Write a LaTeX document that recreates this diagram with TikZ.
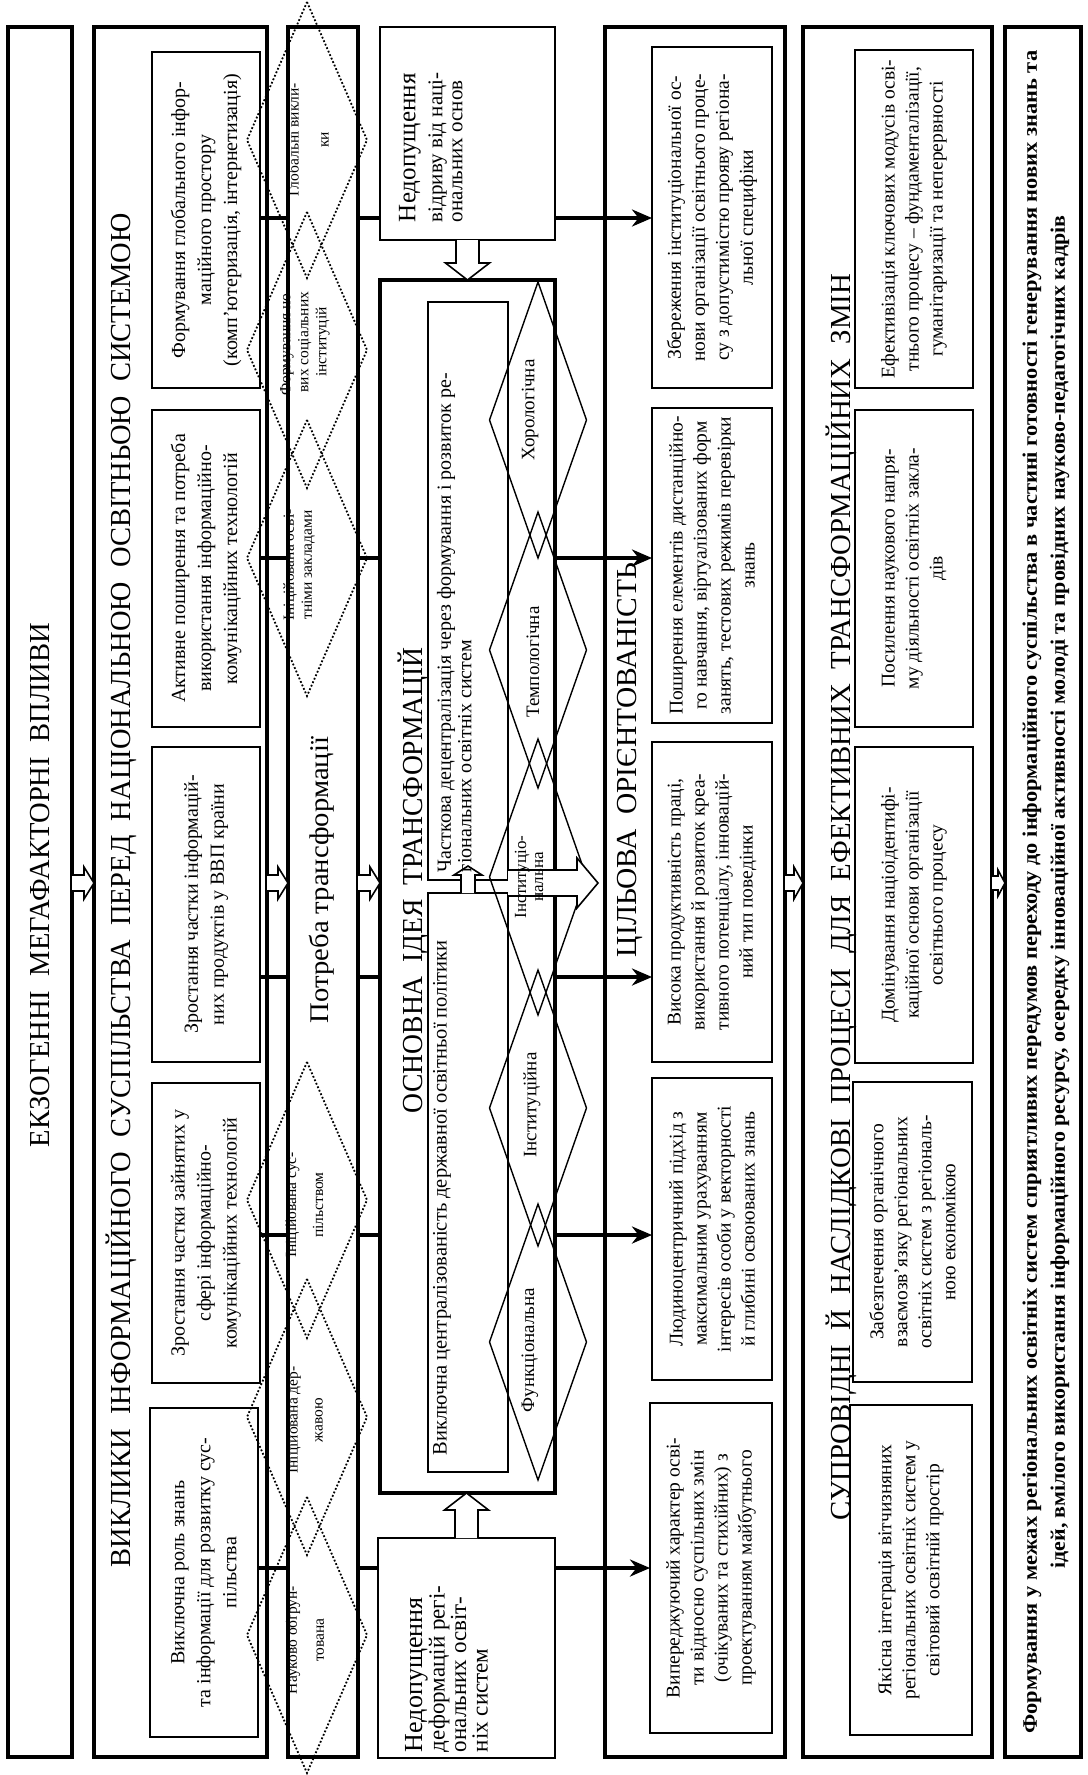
\documentclass[tikz,border=0pt]{standalone}
\usepackage{fontspec}
\setmainfont{Liberation Serif}
\usetikzlibrary{calc,arrows.meta}
\newcommand\fs[2]{\fontsize{#1}{#2}\selectfont}
\newcommand\rs[2]{\resizebox{#1pt}{\height}{#2}}
\newcommand\bx[6]{\node[#6, anchor=north west, minimum width={#4-#2}, minimum height={#5-#3}] (#1) at (#2,#3) {};}
\newcommand\hR[5]{\draw[harr] let \p1=(#1), \p2=(#2) in (\x1,\y1+#3) -- (\x2-#5,\y1+#3) -- (\x2-#5,\y1+#4) -- (\x2,\y1) -- (\x2-#5,\y1-#4) -- (\x2-#5,\y1-#3) -- (\x1,\y1-#3);}
\newcommand\hD[5]{\draw[harr] let \p1=(#1), \p2=(#2) in (\x1+#3,\y1) -- (\x1+#3,\y2+#5) -- (\x1+#4,\y2+#5) -- (\x1,\y2) -- (\x1-#4,\y2+#5) -- (\x1-#3,\y2+#5) -- (\x1-#3,\y1);}
\newcommand\hU[5]{\draw[harr] let \p1=(#1), \p2=(#2) in (\x1+#3,\y1) -- (\x1+#3,\y2-#5) -- (\x1+#4,\y2-#5) -- (\x1,\y2) -- (\x1-#4,\y2-#5) -- (\x1-#3,\y2-#5) -- (\x1-#3,\y1);}
\begin{document}
\begin{tikzpicture}[x=1pt,y=-1pt,
  every node/.style={inner sep=0pt, outer sep=0pt},
  colbox/.style={draw, line width=3.8pt},
  ibox/.style={draw, line width=1.8pt},
  dia/.style={line width=1.4pt},
  ddia/.style={line width=1.8pt, dotted},
  conn/.style={line width=4.5pt},
  arr/.style={line width=4.5pt, -{Stealth[length=20pt,width=17pt]}},
  harr/.style={draw, line width=1.6pt, fill=white},
  ttl/.style={rotate=90, font=\fs{29}{33}},
  txt/.style={rotate=90, align=center, font=\fs{19.5}{24}},
  ctxt/.style={rotate=90, align=center, font=\fs{20}{26}},
  dtxt/.style={rotate=90, align=center},
  ltxt/.style={rotate=90, align=left},
  dlab/.style={rotate=90, font=\fs{19}{20}},
]
\useasboundingbox (0,0) rectangle (1087,1775);
\fill[white] (0,0) rectangle (1087,1775);

% columns
\bx{c1}{8}{27}{72}{1757}{colbox}
\bx{c2}{94}{27}{267}{1757}{colbox}
\bx{c3}{288}{27}{358}{1757}{colbox}
\bx{c4}{605}{27}{785}{1757}{colbox}
\bx{c5}{803}{27}{992}{1757}{colbox}
\bx{c6}{1005}{27}{1081}{1757}{colbox}

% column 2 boxes
\bx{a1}{152}{52}{260}{388}{ibox}
\bx{a2}{152}{410}{260}{727}{ibox}
\bx{a3}{152}{747}{260}{1062}{ibox}
\bx{a4}{152}{1083}{260}{1383}{ibox}
\bx{a5}{150}{1408}{258}{1737}{ibox}

% middle
\bx{n1}{380}{27}{555}{240}{ibox}
\bx{m}{380}{280}{555}{1493}{colbox}
\bx{n2}{378}{1538}{555}{1758}{ibox}
\bx{p1}{428}{302}{508}{880}{ibox}
\bx{p2}{428}{893}{508}{1472}{ibox}

% target boxes
\bx{g1}{652}{47}{772}{388}{ibox}
\bx{g2}{652}{408}{772}{723}{ibox}
\bx{g3}{652}{742}{772}{1062}{ibox}
\bx{g4}{652}{1078}{772}{1380}{ibox}
\bx{g5}{650}{1403}{772}{1733}{ibox}

\bx{s1}{855}{50}{973}{388}{ibox}
\bx{s2}{855}{410}{973}{727}{ibox}
\bx{s3}{855}{747}{973}{1063}{ibox}
\bx{s4}{853}{1082}{972}{1382}{ibox}
\bx{s5}{850}{1405}{972}{1735}{ibox}

% diamonds
\foreach \yc in {140,350,558,1200,1417,1635}
  \draw[ddia] (307,\yc-138) -- (367,\yc) -- (307,\yc+138) -- (247,\yc) -- cycle;
\foreach \yc in {420,650,877,1108,1342}
  \draw[dia] (538,\yc-138) -- (586.5,\yc) -- (538,\yc+138) -- (489.5,\yc) -- cycle;

% rows
\coordinate (r1) at (0,218);
\coordinate (r2) at (0,558);
\coordinate (r3) at (0,977);
\coordinate (r4) at (0,1235);
\coordinate (r5) at (0,1568);
\coordinate (ha) at (0,883);
\coordinate (mt) at (598,883);
\coordinate (pt) at (468,866);

\draw[conn] (a1.east |- r1) -- (c3.west |- r1);
\draw[conn] (a2.east |- r2) -- (c3.west |- r2);
\draw[conn] (a3.east |- r3) -- (c3.west |- r3);
\draw[conn] (a4.east |- r4) -- (c3.west |- r4);
\draw[conn] (a5.east |- r5) -- (c3.west |- r5);
\draw[conn] (c3.east |- r1) -- (n1.west |- r1);
\draw[conn] (c3.east |- r2) -- (m.west |- r2);
\draw[conn] (c3.east |- r3) -- (m.west |- r3);
\draw[conn] (c3.east |- r4) -- (m.west |- r4);
\draw[conn] (c3.east |- r5) -- (n2.west |- r5);
\draw[arr] (n1.east |- r1) -- (g1.west |- r1);
\draw[arr] (m.east |- r2) -- (g2.west |- r2);
\draw[arr] (m.east |- r3) -- (g3.west |- r3);
\draw[arr] (m.east |- r4) -- (g4.west |- r4);
\draw[arr] (n2.east |- r5) -- (g5.west |- r5);

% hollow arrows
\hR{c1.east |- ha}{c2.west |- ha}{8pt}{16pt}{10pt}
\hR{c2.east |- ha}{c3.west |- ha}{8pt}{16pt}{10pt}
\hR{c3.east |- ha}{m.west |- ha}{8pt}{16pt}{10pt}
\hR{p1.east |- ha}{mt}{13pt}{25pt}{21pt}
\hR{c4.east |- ha}{c5.west |- ha}{8pt}{16pt}{9pt}
\hR{c5.east |- ha}{c6.west |- ha}{7pt}{13pt}{7pt}
\hD{n1.south}{m.north}{11.5pt}{22pt}{17pt}
\hU{n2.north}{m.south}{11.5pt}{22pt}{17pt}
\hU{p2.north}{pt}{7pt}{14pt}{9pt}

% titles
\node[ttl] at (40,885) {\rs{524}{ЕКЗОГЕННІ\ \ МЕГАФАКТОРНІ\ \ ВПЛИВИ}};
\node[ttl] at (121,890) {\rs{1354}{ВИКЛИКИ\ \ ІНФОРМАЦІЙНОГО\ \ СУСПІЛЬСТВА\ \ ПЕРЕД\ \ НАЦІОНАЛЬНОЮ\ \ ОСВІТНЬОЮ\ \ СИСТЕМОЮ}};
\node[ttl, font=\fs{27}{31}] at (322,880) {\rs{286}{Потреба трансформації}};
\node[ttl] at (413,880) {\rs{466}{ОСНОВНА\ \ ІДЕЯ\ \ ТРАНСФОРМАЦІЙ}};
\node[ttl] at (630,760) {\rs{394}{ЦІЛЬОВА\ \ ОРІЄНТОВАНІСТЬ}};
\node[ttl] at (841,897) {\rs{1247}{СУПРОВІДНІ\ \ Й\ \ НАСЛІДКОВІ\ \ ПРОЦЕСИ\ \ ДЛЯ\ \ ЕФЕКТИВНИХ\ \ ТРАНСФОРМАЦІЙНИХ\ \ ЗМІН}};

% column 2 texts
\node[ctxt] at (a1) {Формування глобального інфор-\\маційного простору\\(комп’ютеризація, інтернетизація)};
\node[ctxt] at (a2) {Активне поширення та потреба\\використання інформаційно-\\комунікаційних технологій};
\node[ctxt] at (a3) {Зростання частки інформацій-\\них продуктів у ВВП країни};
\node[ctxt] at (a4) {Зростання частки зайнятих у\\сфері інформаційно-\\комунікаційних технологій};
\node[ctxt] at (a5) {Виключна роль знань\\та інформації для розвитку сус-\\пільства};

% dotted diamond labels
\node[dtxt, font=\fs{15.5}{30}] at (308,140) {Глобальні викли-\\ки};
\node[dtxt, font=\fs{15.5}{18}] at (305,342) {Формування но-\\вих соціальних\\інституцій};
\node[dtxt, font=\fs{15.5}{18}] at (299,565) {Ініційована осві-\\тніми закладами};
\node[dtxt, font=\fs{15.5}{27}] at (304.5,1205) {Ініційована сус-\\пільством};
\node[dtxt, font=\fs{15.5}{25}] at (305,1420) {Ініційована дер-\\жавою};
\node[dtxt, font=\fs{15.5}{27}] at (305,1640) {Науково обґрун-\\тована};

% middle texts
\node[ltxt, anchor=north west, font=\fs{21}{20}] at (399,222) {{\fs{25}{20}Недопущення}\\[7pt]відриву від наці-\\ональних основ};
\node[ltxt, anchor=north west, font=\fs{23}{21.5}] at (405,1752) {{\fs{26}{21.5}Недопущення}\\деформацій регі-\\ональних освіт-\\ніх систем};
\node[ltxt, anchor=north west, font=\fs{20}{20.5}] at (437,872) {Часткова децентралізація через формування і розвиток ре-\\гіональних освітніх систем};
\node[rotate=90, anchor=west, font=\fs{20.5}{24}] at (442,1455) {Виключна централізованість державної освітньої політики};

\node[dlab] at (530,410) {Хорологічна};
\node[dlab] at (533,662) {Темпологічна};
\node[dtxt, font=\fs{17}{17}] at (529,877) {Інституціо-\\нальна};
\node[dlab] at (532,1105) {Інституційна};
\node[dlab] at (530,1350) {Функціональна};

% target texts
\node[txt] at (g1) {Збереження інституціональної ос-\\нови організації освітнього проце-\\су з допустимістю прояву регіона-\\льної специфіки};
\node[txt] at (g2) {Поширення елементів дистанційно-\\го навчання, віртуалізованих форм\\занять, тестових режимів перевірки\\знань};
\node[txt] at (g3) {Висока продуктивність праці,\\використання й розвиток креа-\\тивного потенціалу, інновацій-\\ний тип поведінки};
\node[txt] at (g4) {Людиноцентричний підхід з\\максимальним урахуванням\\інтересів особи у векторності\\й глибині освоюваних знань};
\node[txt] at (g5) {Випереджуючий характер осві-\\ти відносно суспільних змін\\(очікуваних та стихійних) з\\проектуванням майбутнього};

\node[txt] at (s1) {Ефективізація ключових модусів осві-\\тнього процесу – фундаменталізації,\\гуманітаризації та неперервності};
\node[txt] at (s2) {Посилення наукового напря-\\му діяльності освітніх закла-\\дів};
\node[txt] at (s3) {Домінування націоідентифі-\\каційної основи організації\\освітнього процесу};
\node[txt] at (s4) {Забезпечення органічного\\взаємозв’язку регіональних\\освітніх систем з регіональ-\\ною економікою};
\node[txt] at (s5) {Якісна інтеграція вітчизняних\\регіональних освітніх систем у\\світовий освітній простір};

\node[txt, font=\bfseries\fs{20.6}{28}] at (1046,892) {\rs{1683}{Формування у межах регіональних освітніх систем сприятливих передумов переходу до інформаційного суспільства в частині готовності генерування нових знань та}\\\rs{1353}{ідей, вмілого використання інформаційного ресурсу, осередку інноваційної активності молоді та провідних науково-педагогічних кадрів}};
\end{tikzpicture}
\end{document}
